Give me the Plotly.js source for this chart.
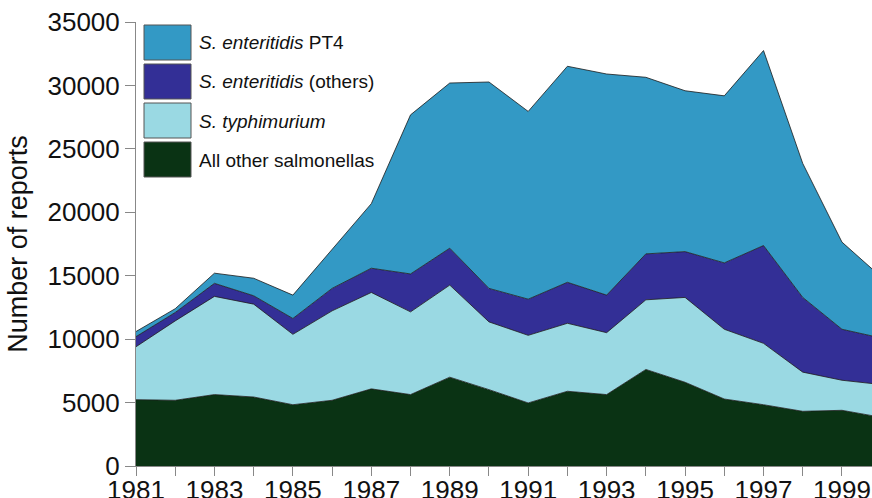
<!DOCTYPE html>
<html>
<head>
<meta charset="utf-8">
<script src="https://cdn.plot.ly/plotly-3.0.1.min.js"></script>
<style>
  html, body { margin: 0; padding: 0; background: #ffffff; }
  #chart { width: 872px; height: 498px; }
</style>
</head>
<body>
<div id="chart"></div>
<script>
// ---- data ----
const years = [1981,1982,1983,1984,1985,1986,1987,1988,1989,1990,1991,1992,1993,1994,1995,1996,1997,1998,1999,2000];
const otherSalmonellas = [5230,5180,5630,5440,4830,5180,6080,5630,7000,6020,4970,5890,5630,7610,6600,5280,4830,4310,4390,3840];
const typhimurium      = [4170,6260,7740,7320,5550,7050,7600,6520,7260,5340,5330,5360,4880,5490,6690,5500,4840,3090,2370,2580];
const enteritidisOther = [800,660,1030,660,1250,1770,1910,2990,2910,2640,2850,3230,2960,3620,3610,5230,7710,5890,4020,3670];
const enteritidisPT4   = [400,300,800,1380,1840,3040,5090,12540,13020,16270,14800,17030,17430,13920,12680,13170,15370,10560,6870,4810];

const seriesNames = ["All other salmonellas", "<i>S. typhimurium</i>", "<i>S. enteritidis</i> (others)", "<i>S. enteritidis</i> PT4"];
const seriesColors = ["#0a3314", "#9ad9e3", "#332f96", "#3399c5"];
const seriesValues = [otherSalmonellas, typhimurium, enteritidisOther, enteritidisPT4];

const yTickVals = [0,5000,10000,15000,20000,25000,30000,35000];
const yTickText = ["0","5000","10000","15000","20000","25000","30000","35000"];
const xTickVals = years.slice(0, 19);
const xTickText = xTickVals.map(y => (y % 2 === 1 ? String(y) : ""));

// ---- geometry helpers (pixel -> paper) ----
const W = 872, H = 498;
const M = {l: 136, r: 0, t: 22, b: 32};
const pw = W - M.l - M.r, ph = H - M.t - M.b;
const px = x => (x - M.l) / pw;
const py = y => (H - M.b - y) / ph;

const traces = seriesValues.map((vals, i) => ({
  x: years,
  y: vals,
  type: "scatter",
  mode: "lines",
  stackgroup: "one",
  name: seriesNames[i],
  line: {color: "#1a1a1a", width: 0.8, shape: "linear"},
  fillcolor: seriesColors[i],
  hoverinfo: "x+y+name"
}));

// legend drawn as boxes + labels (order top to bottom: PT4, others, typhimurium, other salmonellas)
const legendOrder = [3, 2, 1, 0];
const shapes = [];
const annotations = [];
legendOrder.forEach((si, k) => {
  const top = 25 + k * 39;
  shapes.push({
    type: "rect", xref: "paper", yref: "paper",
    x0: px(144), x1: px(191), y0: py(top + 35), y1: py(top),
    fillcolor: seriesColors[si], line: {color: "#555555", width: 1}
  });
  annotations.push({
    xref: "paper", yref: "paper", x: px(197), y: py(top + 18),
    xanchor: "left", yanchor: "middle", showarrow: false,
    text: seriesNames[si],
    font: {family: "Liberation Sans, Arial, sans-serif", size: 19, color: "#111111"}
  });
});

const layout = {
  width: W, height: H,
  margin: M,
  paper_bgcolor: "#ffffff",
  plot_bgcolor: "#ffffff",
  showlegend: false,
  font: {family: "Liberation Sans, Arial, sans-serif", color: "#111111"},
  xaxis: {
    range: [1981, 1981 + pw / 39.22],
    tickvals: xTickVals, ticktext: xTickText,
    ticks: "outside", ticklen: 9, tickwidth: 1, tickcolor: "#888888",
    showline: true, linecolor: "#888888", linewidth: 1,
    showgrid: false, zeroline: false,
    tickfont: {size: 26, color: "#111111"},
    ticklabelstandoff: -8,
    fixedrange: true
  },
  yaxis: {
    range: [0, 35000],
    tickvals: yTickVals, ticktext: yTickText,
    ticks: "outside", ticklen: 10, tickwidth: 1, tickcolor: "#888888",
    showline: true, linecolor: "#888888", linewidth: 1,
    showgrid: false, zeroline: false,
    tickfont: {size: 26, color: "#111111"},
    title: {text: "Number of reports", font: {size: 27, color: "#111111"}, standoff: 12},
    fixedrange: true
  },
  shapes: shapes,
  annotations: annotations
};

Plotly.newPlot("chart", traces, layout, {displayModeBar: false, staticPlot: true});
</script>
</body>
</html>
